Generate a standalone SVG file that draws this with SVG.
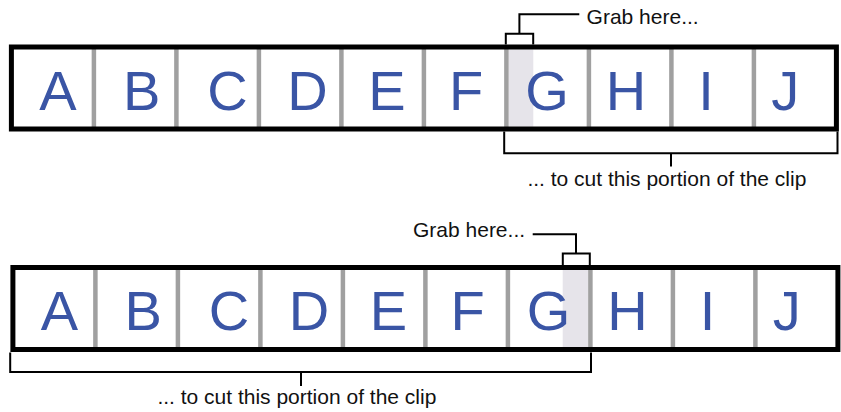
<svg xmlns="http://www.w3.org/2000/svg" width="841" height="412" viewBox="0 0 841 412">
<style>
.frame{fill:#fff;stroke:#000;stroke-width:5}
.div{stroke:#a0a0a0;stroke-width:4.5}
.hl{fill:#e6e4ea}
.let{font-family:"Liberation Sans",Arial,sans-serif;font-size:56px;fill:#3a55a5;text-anchor:middle}
.br{fill:none;stroke:#000;stroke-width:2}
.lbl{font-family:"Liberation Sans",Arial,sans-serif;font-size:21px;fill:#111}
</style>
<defs>
<g id="cells">
<line class="div" x1="93.9" y1="49" x2="93.9" y2="127"/>
<line class="div" x1="176.4" y1="49" x2="176.4" y2="127"/>
<line class="div" x1="258.9" y1="49" x2="258.9" y2="127"/>
<line class="div" x1="341.4" y1="49" x2="341.4" y2="127"/>
<line class="div" x1="423.9" y1="49" x2="423.9" y2="127"/>
<line class="div" x1="506.4" y1="49" x2="506.4" y2="127"/>
<line class="div" x1="588.9" y1="49" x2="588.9" y2="127"/>
<line class="div" x1="671.4" y1="49" x2="671.4" y2="127"/>
<line class="div" x1="753.9" y1="49" x2="753.9" y2="127"/>
<text class="let" x="58" y="109.5">A</text>
<text class="let" x="141.6" y="109.5">B</text>
<text class="let" x="227.5" y="109.5">C</text>
<text class="let" x="307.5" y="109.5">D</text>
<text class="let" x="387" y="109.5">E</text>
<text class="let" x="466.2" y="109.5">F</text>
<text class="let" x="547" y="109.5">G</text>
<text class="let" x="626" y="109.5">H</text>
<text class="let" x="706" y="109.5">I</text>
<text class="let" x="785.3" y="109.5">J</text>
</g>
</defs>
<g id="strip-top">
<rect x="11.4" y="47" width="825" height="82" fill="#fff"/>
<rect class="hl" x="508.7" y="49.3" width="24.6" height="77.4"/>
<use href="#cells"/>
<rect class="frame" x="11.4" y="47" width="825" height="82" fill="none" style="fill:none"/>
</g>
<g id="strip-bottom" transform="translate(1.5,220.5)">
<rect x="11.4" y="47" width="825" height="82" fill="#fff"/>
<rect class="hl" x="561.2" y="49.3" width="25.6" height="77.4"/>
<use href="#cells"/>
<rect class="frame" x="11.4" y="47" width="825" height="82" style="fill:none"/>
</g>
<g id="connectors">
<path class="br" d="M505.8,44.5 V33.7 H533.2 V44.5 M519.4,33.7 V14.2 H579.3"/>
<path class="br" d="M504.2,131.5 V153.2 H837.5 V131.5 M671,153.2 V166.5"/>
<path class="br" d="M562.8,265 V253.5 H589.8 V265 M576,253.5 V234.2 H532.7"/>
<path class="br" d="M10.2,352.5 V372 H591 V352.5 M301,372 V386"/>
</g>
<g id="labels">
<text class="lbl" x="586.6" y="24">Grab here...</text>
<text class="lbl" x="413" y="237.3">Grab here...</text>
<text class="lbl" x="527.4" y="185.7">... to cut this portion of the clip</text>
<text class="lbl" x="157.4" y="404">... to cut this portion of the clip</text>
</g>
</svg>
